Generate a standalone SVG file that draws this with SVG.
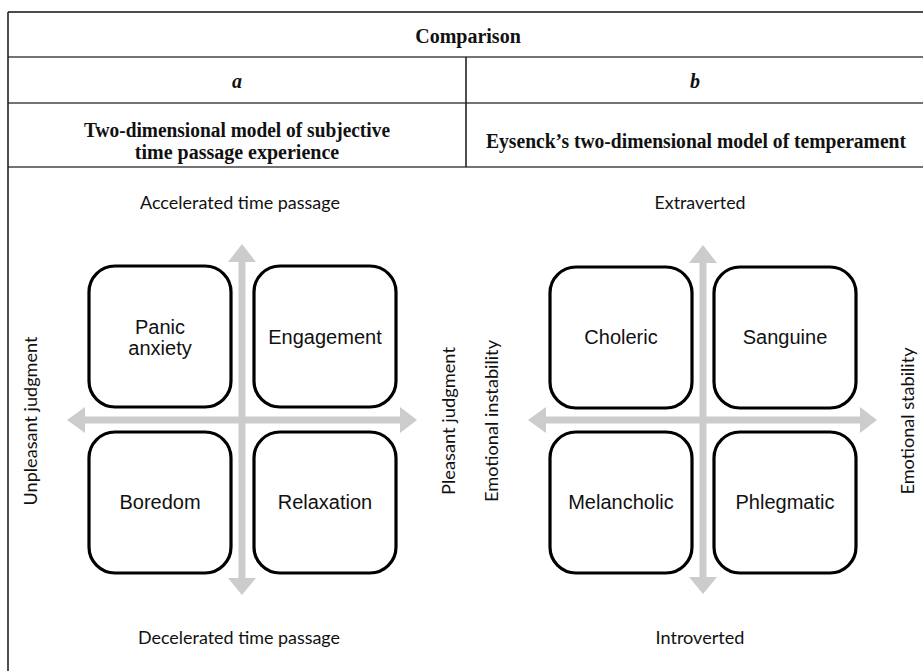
<svg xmlns="http://www.w3.org/2000/svg" width="923" height="671" viewBox="0 0 923 671">
<style>
.hdr{font-family:"Liberation Serif","Times New Roman",serif;font-size:20px;font-weight:bold;fill:#111;text-anchor:middle}
.it{font-style:italic}
.ax{font-family:Lato,"Open Sans",sans-serif;font-size:18px;fill:#111;text-anchor:middle}
.box rect{fill:#fff;stroke:#000;stroke-width:3.2}
.box text{font-family:"Liberation Sans",Arial,sans-serif;font-size:20px;fill:#111;text-anchor:middle}
.tl{stroke:#444;stroke-width:1.6;fill:none}
.arr{fill:#cccccc}
</style>
<rect width="923" height="671" fill="#fff"/>
<g id="table">
<line class="tl" x1="8" y1="12" x2="923" y2="12" style="stroke:#111"/>
<line class="tl" x1="8" y1="57" x2="923" y2="57"/>
<line class="tl" x1="8" y1="103" x2="923" y2="103"/>
<line class="tl" x1="8" y1="167" x2="923" y2="167"/>
<line class="tl" x1="8" y1="12" x2="8" y2="671" style="stroke:#222"/>
<line class="tl" x1="466" y1="57" x2="466" y2="167" style="stroke:#222"/>
<text class="hdr" x="468" y="43">Comparison</text>
<text class="hdr it" x="237" y="88">a</text>
<text class="hdr it" x="695" y="88">b</text>
<text class="hdr" x="237" y="137" textLength="306" lengthAdjust="spacingAndGlyphs">Two-dimensional model of subjective</text>
<text class="hdr" x="237" y="159">time passage experience</text>
<text class="hdr" x="696" y="148" textLength="420" lengthAdjust="spacingAndGlyphs">Eysenck’s two-dimensional model of temperament</text>
</g>
<g id="connectors">
<polygon class="arr" points="242,244 256,262 245.5,262 245.5,578 256,578 242,595 228,578 238.5,578 238.5,262 228,262"/>
<polygon class="arr" points="67,420 85,407 85,416.5 400,416.5 400,407 417,420 400,433 400,423.5 85,423.5 85,433"/>
<polygon class="arr" points="703,245 717,263 706.5,263 706.5,577 717,577 703,594 689,577 699.5,577 699.5,263 689,263"/>
<polygon class="arr" points="528,420 546,407 546,416.5 860,416.5 860,407 877,420 860,433 860,423.5 546,423.5 546,433"/>
</g>
<g id="labels-a">
<text class="ax" x="240" y="209" textLength="200" lengthAdjust="spacingAndGlyphs">Accelerated time passage</text>
<text class="ax" x="239" y="644" textLength="202" lengthAdjust="spacingAndGlyphs">Decelerated time passage</text>
<text class="ax" transform="translate(37,421) rotate(-90)" textLength="169" lengthAdjust="spacingAndGlyphs">Unpleasant judgment</text>
<text class="ax" transform="translate(455,421) rotate(-90)" textLength="148" lengthAdjust="spacingAndGlyphs">Pleasant judgment</text>
</g>
<g id="labels-b">
<text class="ax" x="700" y="209" textLength="91" lengthAdjust="spacingAndGlyphs">Extraverted</text>
<text class="ax" x="700" y="644" textLength="89" lengthAdjust="spacingAndGlyphs">Introverted</text>
<text class="ax" transform="translate(498,421) rotate(-90)" textLength="162" lengthAdjust="spacingAndGlyphs">Emotional instability</text>
<text class="ax" transform="translate(914,421) rotate(-90)" textLength="147" lengthAdjust="spacingAndGlyphs">Emotional stability</text>
</g>
<g id="panic-anxiety" class="box"><rect x="89" y="266" width="142" height="141" rx="26"/><text x="160" y="334">Panic</text><text x="160" y="355">anxiety</text></g>
<g id="engagement" class="box"><rect x="254" y="266" width="142" height="141" rx="26"/><text x="325" y="344">Engagement</text></g>
<g id="boredom" class="box"><rect x="89" y="432" width="142" height="141" rx="26"/><text x="160" y="509">Boredom</text></g>
<g id="relaxation" class="box"><rect x="254" y="432" width="142" height="141" rx="26"/><text x="325" y="509">Relaxation</text></g>
<g id="choleric" class="box"><rect x="550" y="267" width="142" height="141" rx="26"/><text x="621" y="344">Choleric</text></g>
<g id="sanguine" class="box"><rect x="714" y="267" width="142" height="141" rx="26"/><text x="785" y="344">Sanguine</text></g>
<g id="melancholic" class="box"><rect x="550" y="432" width="142" height="141" rx="26"/><text x="621" y="509">Melancholic</text></g>
<g id="phlegmatic" class="box"><rect x="714" y="432" width="142" height="141" rx="26"/><text x="785" y="509">Phlegmatic</text></g>
</svg>
